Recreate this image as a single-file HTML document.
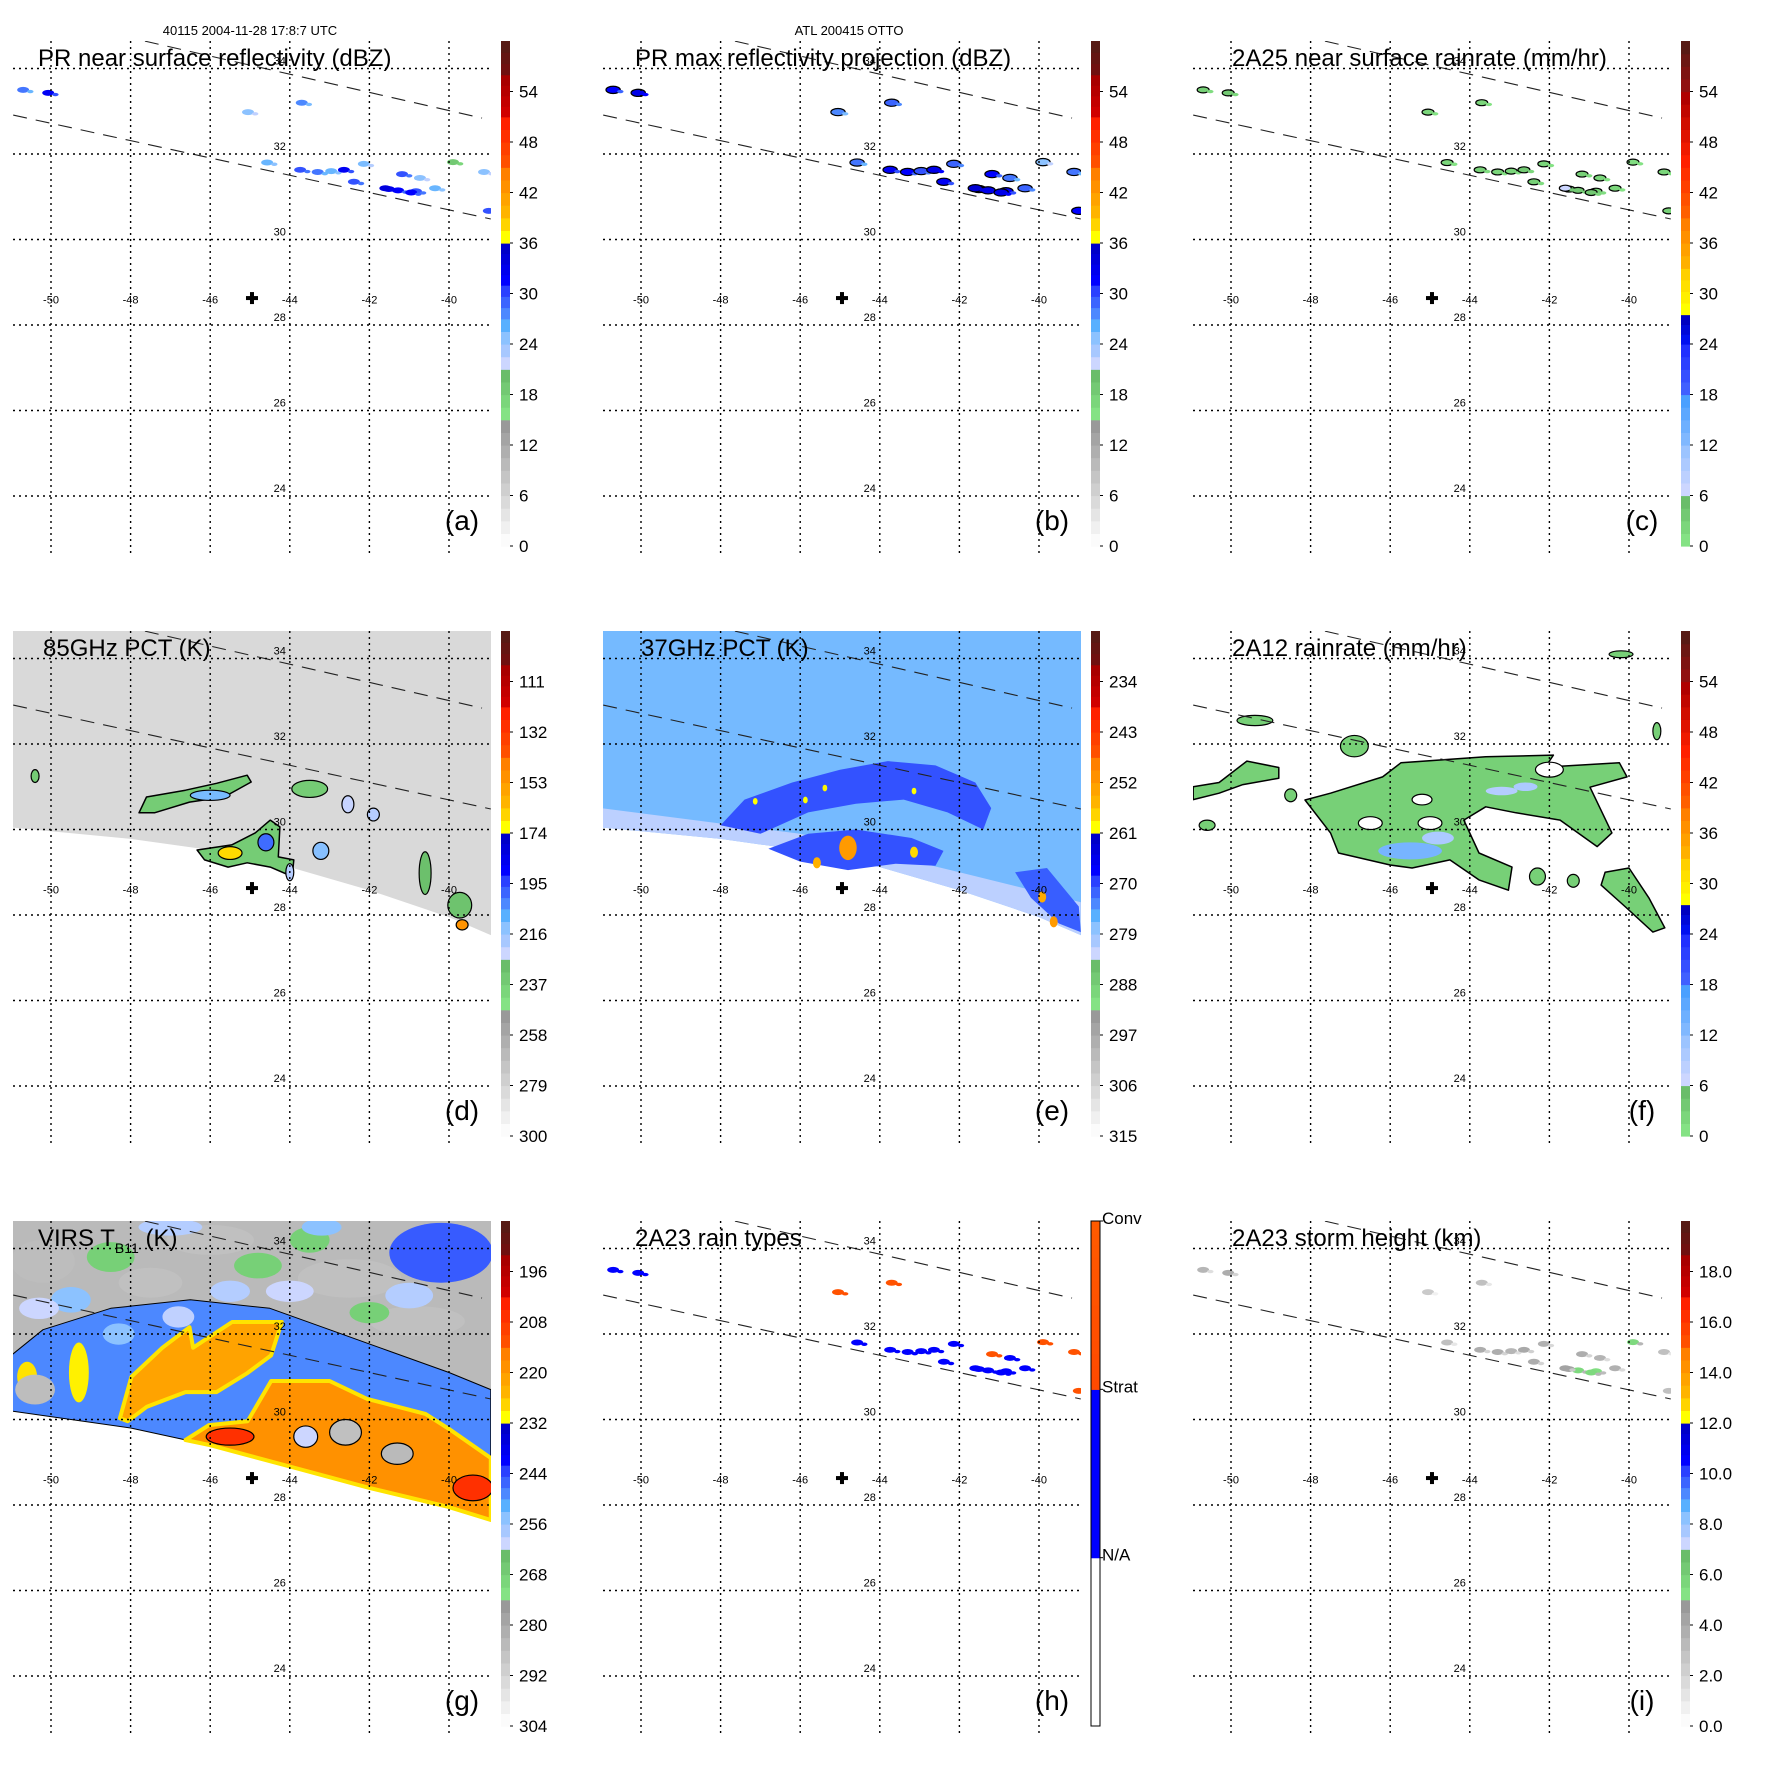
<!DOCTYPE html>
<html><head><meta charset="utf-8">
<style>
html,body{margin:0;padding:0;background:#fff;}
svg{display:block;font-family:"Liberation Sans",sans-serif;}
</style></head>
<body>
<svg id="fig" width="1771" height="1771" viewBox="0 0 1771 1771" xmlns="http://www.w3.org/2000/svg">
<text x="250" y="35" font-size="13" text-anchor="middle">40115 2004-11-28 17:8:7 UTC</text>
<text x="849" y="35" font-size="13" text-anchor="middle">ATL 200415 OTTO</text>
</svg>
<script>
// ---- axis data ----
const lonTicks=[-50,-48,-46,-44,-42,-40];
const latTicks=[24,26,28,30,32,34];
const trackLons1=[-50.95,-38.95];
const trackLats1=[32.91,30.48];
const trackLons2=[-47.64,-39.17];
const trackLats2=[34.64,32.84];
const centerLon=-44.95, centerLat=28.63;
// swath lower edges
const edgeLonsD=[-51,-48,-46,-44,-42,-40,-38.95];
const edgeLatsD=[30.05,29.78,29.52,29.12,28.58,27.95,27.53];
const edgeLonsG=[-51,-48,-46,-44,-42,-40,-38.95];
const edgeLatsG=[30.2,29.8,29.4,28.9,28.4,27.95,27.65];
// colorbar tick labels
const ticksA=[0,6,12,18,24,30,36,42,48,54];
const ticksD=[300,279,258,237,216,195,174,153,132,111];
const ticksE=[315,306,297,288,279,270,261,252,243,234];
const ticksG=[304,292,280,268,256,244,232,220,208,196];
const ticksI=[0,2,4,6,8,10,12,14,16,18];
const ticksILabels=['0.0','2.0','4.0','6.0','8.0','10.0','12.0','14.0','16.0','18.0'];
const ticksH=['N/A','Strat','Conv'];
const ticksHVals=[20,40,60];
// PR cells (a,b,c,h,i)
const prLons=[-43.74,-43.3,-42.96,-42.64,-42.14,-42.39,-41.51,-41.28,-41.18,-40.83,-40.73,-40.35,-39.9,-39.12,-39.0,-50.7,-50.07,-45.05,-43.7,-44.57,-41.6,-40.95];
const prLats=[31.63,31.58,31.6,31.63,31.77,31.35,31.18,31.15,31.53,31.13,31.44,31.2,31.81,31.58,30.67,33.5,33.43,32.98,33.2,31.8,31.2,31.1];
const prDbz=[30,28,26,32,25,30,33,31,30,30,24,26,19,24,30,28,32,24,27,26,34,31];
const prMax=[32,31,30,33,29,32,35,33,31,32,28,29,24,28,31,31,33,27,29,28,35,33];
const prRain=[3,2,2,4,2,3,5,4,3,3,2,2,1,2,3,3,4,2,2,2,6,4];
const prType=[30,30,30,30,30,30,30,30,50,30,30,30,50,50,50,30,30,50,50,30,30,30];
const prHgt=[4,4,3.5,4.2,3.8,4,4.5,5.5,4,5.2,3.6,3.8,5.5,3,3,3.5,4,2.5,3,3,4.5,5.5];
// 85GHz (d) blobs
const dPoly1Lons=[-47.79,-47.6,-46.62,-45.84,-45.07,-44.97,-45.65,-46.52,-47.4];
const dPoly1Lats=[30.39,30.76,30.92,31.08,31.27,31.11,30.76,30.64,30.39];
const dPoly2Lons=[-46.33,-45.46,-44.87,-44.49,-44.25,-44.29,-43.9,-43.94,-44.49,-45.07,-45.55,-46.14];
const dPoly2Lats=[29.52,29.64,29.92,30.22,30.06,29.36,29.29,28.9,29.12,29.22,29.12,29.29];
const dCellLons=[-43.5,-42.54,-41.9,-43.22,-40.6,-39.73,-39.67,-45.5,-46.0,-44.6,-50.4,-44.0];
const dCellLats=[30.95,30.59,30.35,29.5,28.98,28.23,27.77,29.45,30.8,29.7,31.25,29.0];
const dCellRLon=[0.45,0.15,0.15,0.2,0.15,0.3,0.15,0.3,0.5,0.2,0.1,0.1];
const dCellRLat=[0.2,0.2,0.15,0.2,0.5,0.3,0.12,0.15,0.12,0.2,0.15,0.2];
const dCellVals=[235,225,220,215,228,230,150,165,212,200,235,220];
// 37GHz (e)
const eBandLons=[-48,-47.4,-46.2,-45,-43.8,-42.6,-41.6,-41.2,-41.4,-42.3,-43.4,-44.6,-45.8,-47.0];
const eBandLats=[30.1,30.7,31.1,31.4,31.6,31.5,31.1,30.5,30.0,30.4,30.7,30.6,30.4,29.9];
const eBand2Lons=[-46.8,-45.8,-44.6,-43.2,-42.4,-42.6,-43.6,-44.8,-46.0];
const eBand2Lats=[29.55,29.9,30.0,29.8,29.5,29.15,29.2,29.05,29.25];
const eBand3Lons=[-40.6,-39.8,-39.0,-38.95,-39.5,-40.2];
const eBand3Lats=[29.0,29.1,28.2,27.6,27.8,28.4];
const eSpotLons=[-45.87,-45.38,-47.13,-43.14,-44.8,-45.58,-43.14,-39.92,-39.63];
const eSpotLats=[30.69,30.97,30.66,30.9,29.57,29.22,29.47,28.42,27.84];
const eSpotVals=[261,260,261,261,252,256,257,255,252];
const eSpotR=[0.06,0.06,0.06,0.06,0.22,0.1,0.1,0.1,0.1];
// 2A12 (f)
const fMainLons=[-48.14,-47.5,-46.19,-45.73,-43.6,-41.9,-42.1,-40.24,-40.05,-40.98,-40.43,-40.8,-41.73,-42.84,-43.6,-44.15,-43.77,-42.94,-43.03,-43.77,-44.5,-45.45,-46.0,-47.3,-47.5];
const fMainLats=[30.69,30.85,31.23,31.56,31.7,31.74,31.46,31.56,31.23,30.99,29.92,29.6,30.22,30.39,30.53,30.22,29.45,29.12,28.58,28.82,29.29,29.1,29.17,29.45,29.92];
const fTailLons=[-40.6,-40.0,-39.5,-39.1,-39.4,-40.1,-40.7];
const fTailLats=[29.0,29.1,28.4,27.7,27.6,28.2,28.7];
const fLeftLons=[-50.95,-50.3,-49.6,-48.8,-48.8,-49.7,-50.3,-50.95];
const fLeftLats=[31.0,31.1,31.6,31.45,31.2,31.05,30.85,30.7];
const fCellLons=[-49.4,-46.9,-48.5,-50.6,-42.3,-41.4,-40.2,-45.5,-44.8,-43.2,-42.6,-39.3];
const fCellLats=[32.55,31.95,30.8,30.1,28.9,28.8,34.1,29.5,29.8,30.9,31.0,32.3];
const fCellRLon=[0.45,0.35,0.15,0.2,0.2,0.15,0.3,0.8,0.4,0.4,0.3,0.1];
const fCellRLat=[0.12,0.25,0.15,0.12,0.2,0.15,0.08,0.2,0.15,0.1,0.1,0.2];
const fCellVals=[3,3,3,3,3,3,3,13,10,9,10,3];
const fHoleLons=[-46.5,-45.2,-42.0,-45.0];
const fHoleLats=[30.15,30.7,31.4,30.15];
const fHoleR=[0.3,0.25,0.35,0.3];
// VIRS (g)
const gBlueLons=[-51,-50.2,-48.5,-46.5,-44.5,-43,-41.5,-40,-38.95,-38.95,-40,-42,-44,-46,-48,-51];
const gBlueLats=[31.5,32.1,32.6,32.8,32.6,32.1,31.6,31.1,30.7,27.65,27.95,28.4,28.9,29.4,29.8,30.2];
const gOr1Lons=[-48.27,-47.98,-47.2,-46.52,-46.43,-45.45,-44.2,-44.47,-45.06,-45.84,-46.62,-47.59,-48.07];
const gOr1Lats=[30.03,31.0,31.68,32.16,31.68,32.28,32.28,31.5,31.09,30.64,30.64,30.3,29.96];
const gOr2Lons=[-46.62,-46.03,-45.06,-44.47,-43.0,-42.05,-40.59,-40.0,-38.95,-38.95,-40,-42,-44,-46];
const gOr2Lats=[29.52,29.87,29.96,30.9,30.9,30.48,30.13,29.78,29.1,27.65,27.95,28.4,28.9,29.4];
const gPatchLons=[-46,-42.5,-40.8,-50.2,-47.5,-44.8,-49.5,-48.5,-45.5,-43.5,-41,-40.2,-50.6,-49.3,-50.4,-45.5,-39.5,-42.6,-43.6,-41.3,-47,-44,-42,-50.3,-48.3,-46.8,-43.2];
const gPatchLats=[34.2,33.3,32.3,33.7,33.2,33.6,32.8,33.8,33.0,34.2,32.9,33.9,31.0,31.1,30.7,29.55,28.4,29.7,29.6,29.2,34.5,33.0,32.5,32.6,32.0,32.4,34.5];
const gPatchRLon=[1.1,1.3,1.2,0.8,0.8,0.6,0.5,0.6,0.5,0.5,0.6,1.3,0.25,0.25,0.5,0.6,0.5,0.4,0.3,0.4,0.8,0.6,0.5,0.5,0.4,0.4,0.5];
const gPatchRLat=[0.35,0.45,0.35,0.5,0.35,0.3,0.3,0.35,0.25,0.3,0.3,0.7,0.35,0.7,0.35,0.2,0.3,0.3,0.25,0.25,0.2,0.25,0.25,0.25,0.25,0.25,0.2];
const gPatchVals=[286,286,286,285,286,268,256,268,258,268,258,245,228,230,285,206,205,286,262,284,258,262,268,262,256,260,256];

// ---- geometry ----
const colX=[0,590,1180], rowY=[0,590,1180];
const PL=13, PR=491, PT=41, PB=555, CB0=501, CB1=510, CBT=41, CBB=546;
function X(lon){return 51+(lon+50)*39.8;}
function Y(lat){return 325-(lat-28)*42.75;}
function CY(t){return CBB-t/60*(CBB-CBT);}

const REF=[[0,15,'#fbfbfb','#999999'],[15,21,'#84e284','#6abd6a'],[21,24,'#ccd6ff','#a8c8ff'],[24,27,'#8cc2ff','#58b0ff'],[27,31,'#4c88ff','#2a40ff'],[31,36,'#0000ff','#0000c8'],[36,39,'#ffff00','#ffd400'],[39,45,'#ffb400','#ff8000'],[45,51,'#ff5000','#ff2000'],[51,56,'#d00000','#a80000'],[56,60,'#701010','#581a14']];
const RAIN=[[0,6,'#84e284','#6abd6a'],[6,12,'#ccd6ff','#9cc4ff'],[12,18,'#80b8ff','#4aa0ff'],[18,24,'#4060ff','#2030ff'],[24,27.5,'#0010f0','#0000c0'],[27.5,33,'#ffff00','#ffd000'],[33,39,'#ffb000','#ff8000'],[39,45,'#ff6000','#ff3000'],[45,54,'#ff2000','#b00000'],[54,60,'#901010','#581a14']];
const RTYPE=[[0,20,'#ffffff','#ffffff'],[20,40,'#0000ff','#0000ff'],[40,60,'#ff4a00','#ff5a00']];
function hx(c){return [parseInt(c.substr(1,2),16),parseInt(c.substr(3,2),16),parseInt(c.substr(5,2),16)];}
function mix(a,b,f){const A=hx(a),B=hx(b);return 'rgb('+A.map((v,i)=>Math.round(v+(B[i]-v)*f)).join(',')+')';}
function colorAt(pal,t){t=Math.max(0,Math.min(59.99,t));for(const s of pal){if(t>=s[0]&&t<s[1])return mix(s[2],s[3],(t-s[0])/(s[1]-s[0]));}return pal[pal.length-1][3];}

const NS='http://www.w3.org/2000/svg';
const svg=document.getElementById('fig');
function mk(tag,parent){const e=document.createElementNS(NS,tag);parent.appendChild(e);return e;}
function polyPts(lons,lats){return lons.map((l,i)=>X(l).toFixed(1)+','+Y(lats[i]).toFixed(1)).join(' ');}

function addPoly(g,lons,lats,fill,stroke,sw,name){
  const p=mk('polygon',g);
  p.setAttribute('points',polyPts(lons,lats));
  p.setAttribute('fill',fill);
  p.setAttribute('stroke',stroke||'none');
  p.setAttribute('stroke-width',sw||1);
  p.setAttribute('stroke-linejoin','round');
  
  
  return p;
}
function addCell(g,lon,lat,rl,rt,fill,stroke,name){
  const e=mk('ellipse',g);
  e.setAttribute('cx',X(lon));e.setAttribute('cy',Y(lat));
  e.setAttribute('rx',rl*39.8);e.setAttribute('ry',rt*42.75);
  e.setAttribute('fill',fill);
  if(stroke){e.setAttribute('stroke',stroke);e.setAttribute('stroke-width',1.2);}
  
  
  return e;
}
function swath(g,eLons,eLats,fill,name){
  const lons=[-51.2,-38.8].concat(eLons.slice().reverse());
  const lats=[34.9,34.9].concat(eLats.slice().reverse());
  lons.splice(2,0,-38.8); lats.splice(2,0,eLats[eLats.length-1]);
  lons.push(-51.2); lats.push(eLats[0]);
  return addPoly(g,lons,lats,fill,'none',0,name);
}

const panels=[
 {id:'a',c:0,r:0,title:'PR near surface reflectivity (dBZ)',tx:38,pal:REF,ticks:ticksA,labels:ticksA.map(String),tt:v=>v},
 {id:'b',c:1,r:0,title:'PR max reflectivity projection (dBZ)',tx:45,pal:REF,ticks:ticksA,labels:ticksA.map(String),tt:v=>v},
 {id:'c',c:2,r:0,title:'2A25 near surface rainrate (mm/hr)',tx:52,pal:RAIN,ticks:ticksA,labels:ticksA.map(String),tt:v=>v},
 {id:'d',c:0,r:1,title:'85GHz PCT (K)',tx:43,pal:REF,ticks:ticksD,labels:ticksD.map(String),tt:v=>(300-v)/210*60},
 {id:'e',c:1,r:1,title:'37GHz PCT (K)',tx:51,pal:REF,ticks:ticksE,labels:ticksE.map(String),tt:v=>(315-v)/90*60},
 {id:'f',c:2,r:1,title:'2A12 rainrate (mm/hr)',tx:52,pal:RAIN,ticks:ticksA,labels:ticksA.map(String),tt:v=>v},
 {id:'g',c:0,r:2,title:'VIRS T',tx:38,pal:REF,ticks:ticksG,labels:ticksG.map(String),tt:v=>(304-v)/120*60},
 {id:'h',c:1,r:2,title:'2A23 rain types',tx:45,pal:RTYPE,ticks:ticksHVals,labels:ticksH,tt:v=>v},
 {id:'i',c:2,r:2,title:'2A23 storm height (km)',tx:52,pal:REF,ticks:ticksI,labels:ticksILabels,tt:v=>v*3}
];

const defs=mk('defs',svg);
panels.forEach(P=>{
  const cp=mk('clipPath',defs); cp.setAttribute('id','clip-'+P.id);
  const cr=mk('rect',cp); cr.setAttribute('x',PL);cr.setAttribute('y',PT);cr.setAttribute('width',PR-PL);cr.setAttribute('height',PB-PT);

  const g=mk('g',svg);
  g.setAttribute('transform','translate('+colX[P.c]+','+rowY[P.r]+')');
  
  
  const d=mk('g',g); d.setAttribute('clip-path','url(#clip-'+P.id+')');
  
  
  const col=v=>colorAt(P.pal,P.tt(v));

  if(P.id==='a'||P.id==='b'||P.id==='c'||P.id==='h'||P.id==='i'){
    const vals={a:prDbz,b:prMax,c:prRain,h:prType,i:prHgt}[P.id];
    prLons.forEach((l,k)=>{
      const big=(P.id==='b')?1.2:1;
      addCell(d,l,prLats[k],0.15*big,0.07*big,col(vals[k]),(P.id==='b'||P.id==='c')?'#000':null,'rain-cell');
      addCell(d,l+0.18,prLats[k]-0.04,0.08,0.04,col(vals[k]-2),null,'rain-cell');
    });
  }
  if(P.id==='d'){
    swath(d,edgeLonsD,edgeLatsD,col(282),'swath-85ghz');
    addPoly(d,dPoly1Lons,dPoly1Lats,col(235),'#000',1.5,'cold-region');
    addPoly(d,dPoly2Lons,dPoly2Lats,col(235),'#000',1.5,'cold-region');
    dCellLons.forEach((l,k)=>addCell(d,l,dCellLats[k],dCellRLon[k],dCellRLat[k],col(dCellVals[k]),'#000','cold-cell'));
  }
  if(P.id==='e'){
    swath(d,edgeLonsD,edgeLatsD,col(277),'swath-37ghz');
    addPoly(d,[-51,-46,-42,-38.95,-38.95,-40,-42,-44,-46,-48,-51],[30.5,29.9,29.0,28.3,27.53,27.95,28.58,29.12,29.52,29.78,30.05],col(281.5),'none',0,'swath-edge-light');
    addPoly(d,eBandLons,eBandLats,col(270),'none',0,'cold-band');
    addPoly(d,eBand2Lons,eBand2Lats,col(270),'none',0,'cold-band');
    addPoly(d,eBand3Lons,eBand3Lats,col(271),'none',0,'cold-band');
    eSpotLons.forEach((l,k)=>addCell(d,l,eSpotLats[k],eSpotR[k],eSpotR[k]*1.3,col(eSpotVals[k]),null,'cold-spot'));
  }
  if(P.id==='f'){
    addPoly(d,fMainLons,fMainLats,col(3),'#000',1.5,'rain-region');
    addPoly(d,fTailLons,fTailLats,col(3),'#000',1.5,'rain-region');
    addPoly(d,fLeftLons,fLeftLats,col(3),'#000',1.5,'rain-region');
    fCellLons.forEach((l,k)=>addCell(d,l,fCellLats[k],fCellRLon[k],fCellRLat[k],col(fCellVals[k]),k<7||k>10?'#000':null,'rain-cell'));
    fHoleLons.forEach((l,k)=>addCell(d,l,fHoleLats[k],fHoleR[k],fHoleR[k]*0.5,'#fff','#000','rain-gap'));
  }
  if(P.id==='g'){
    swath(d,edgeLonsG,edgeLatsG,col(284),'swath-virs');
    addPoly(d,gBlueLons,gBlueLats,col(250),'#000',1,'cold-cloud');
    gPatchLons.forEach((l,k)=>addCell(d,l,gPatchLats[k],gPatchRLon[k],gPatchRLat[k],col(gPatchVals[k]),null,'cloud-patch'));
    addPoly(d,gOr1Lons,gOr1Lats,col(222),'#ffe400',4,'cloud-top-cold');
    addPoly(d,gOr2Lons,gOr2Lats,col(218),'#ffe400',4,'cloud-top-cold');
    addCell(d,-45.5,29.6,0.6,0.2,col(206),'#000','cloud-top-coldest');
    addCell(d,-39.4,28.4,0.5,0.3,col(206),'#000','cloud-top-coldest');
    addCell(d,-42.6,29.7,0.4,0.3,col(286),'#000','cloud-patch');
    addCell(d,-41.3,29.2,0.4,0.25,col(284),'#000','cloud-patch');
    addCell(d,-43.6,29.6,0.3,0.25,col(262),'#000','cloud-patch');
  }
  latTicks.forEach(lat=>{
    const ln=mk('line',g);
    ln.setAttribute('x1',PL);ln.setAttribute('x2',PR);ln.setAttribute('y1',Y(lat));ln.setAttribute('y2',Y(lat));
    ln.setAttribute('stroke','#000');ln.setAttribute('stroke-width',1.4);ln.setAttribute('stroke-dasharray','2,4');
    
    
    const t=mk('text',g);
    t.setAttribute('x',X(-44)-10);t.setAttribute('y',Y(lat)-4);t.setAttribute('font-size','11');t.setAttribute('text-anchor','middle');
    t.textContent=String(lat);
    
    
  });
  lonTicks.forEach(lon=>{
    const ln=mk('line',g);
    ln.setAttribute('x1',X(lon));ln.setAttribute('x2',X(lon));ln.setAttribute('y1',PT);ln.setAttribute('y2',PB);
    ln.setAttribute('stroke','#000');ln.setAttribute('stroke-width',1.4);ln.setAttribute('stroke-dasharray','2,4');
    
    
    const t=mk('text',g);
    t.setAttribute('x',X(lon));t.setAttribute('y',Y(28.6)+4);t.setAttribute('font-size','11');t.setAttribute('text-anchor','middle');
    t.textContent=String(lon);
    
    
  });
  [[trackLons1,trackLats1],[trackLons2,trackLats2]].forEach(tr=>{
    const ln=mk('line',d);
    ln.setAttribute('x1',X(tr[0][0]));ln.setAttribute('y1',Y(tr[1][0]));ln.setAttribute('x2',X(tr[0][1]));ln.setAttribute('y2',Y(tr[1][1]));
    ln.setAttribute('stroke','#222');ln.setAttribute('stroke-width',1.1);ln.setAttribute('stroke-dasharray','14,9');
    
    
  });
  const cx=X(centerLon), cy=Y(centerLat);
  const c1=mk('rect',g); c1.setAttribute('x',cx-6);c1.setAttribute('y',cy-2);c1.setAttribute('width',12);c1.setAttribute('height',4);
  
  
  const c2=mk('rect',g); c2.setAttribute('x',cx-2);c2.setAttribute('y',cy-6);c2.setAttribute('width',4);c2.setAttribute('height',12);
  
  
  const tt=mk('text',g);
  tt.setAttribute('x',P.tx);tt.setAttribute('y',66);tt.setAttribute('font-size','24');
  
  
  if(P.id==='g'){
    tt.textContent='VIRS T';
    const sub=mk('tspan',tt); sub.setAttribute('font-size','14'); sub.setAttribute('dy','7'); sub.textContent='B11';
    const rest=mk('tspan',tt); rest.setAttribute('dy','-7'); rest.textContent=' (K)';
  } else tt.textContent=P.title;
  const lb=mk('text',g);
  lb.setAttribute('x',462);lb.setAttribute('y',530);lb.setAttribute('font-size','28');lb.setAttribute('text-anchor','middle');
  lb.textContent='('+P.id+')';
  
  
  const cb=mk('g',g);
  
  
  P.pal.forEach(s=>{
    const n=Math.max(1,Math.ceil((s[1]-s[0])/1.5));
    for(let k=0;k<n;k++){
      const t0=s[0]+(s[1]-s[0])*k/n, t1=s[0]+(s[1]-s[0])*(k+1)/n;
      const r=mk('rect',cb);
      r.setAttribute('x',CB0);r.setAttribute('width',CB1-CB0);
      r.setAttribute('y',CY(t1));r.setAttribute('height',CY(t0)-CY(t1)+0.6);
      r.setAttribute('fill',mix(s[2],s[3],n>1?k/(n-1):0));
      
      
    }
  });
  if(P.id==='h'){
    const o=mk('rect',cb);o.setAttribute('x',CB0);o.setAttribute('y',CBT);o.setAttribute('width',CB1-CB0);o.setAttribute('height',CBB-CBT);
    o.setAttribute('fill','none');o.setAttribute('stroke','#000');o.setAttribute('stroke-width',1);
    
    
  }
  P.ticks.forEach((v,k)=>{
    const y=CY(P.tt(v));
    const tk=mk('line',cb);
    tk.setAttribute('x1',CB1);tk.setAttribute('x2',CB1+3);tk.setAttribute('y1',y);tk.setAttribute('y2',y);tk.setAttribute('stroke','#000');
    
    
    const t=mk('text',cb);
    t.setAttribute('x',P.id==='h'?CB1+2:CB1+9);t.setAttribute('y',y+(P.id==='h'?3:6));t.setAttribute('font-size','17');
    t.textContent=P.labels[k];
    
    
  });
});
</script>
</body></html>
